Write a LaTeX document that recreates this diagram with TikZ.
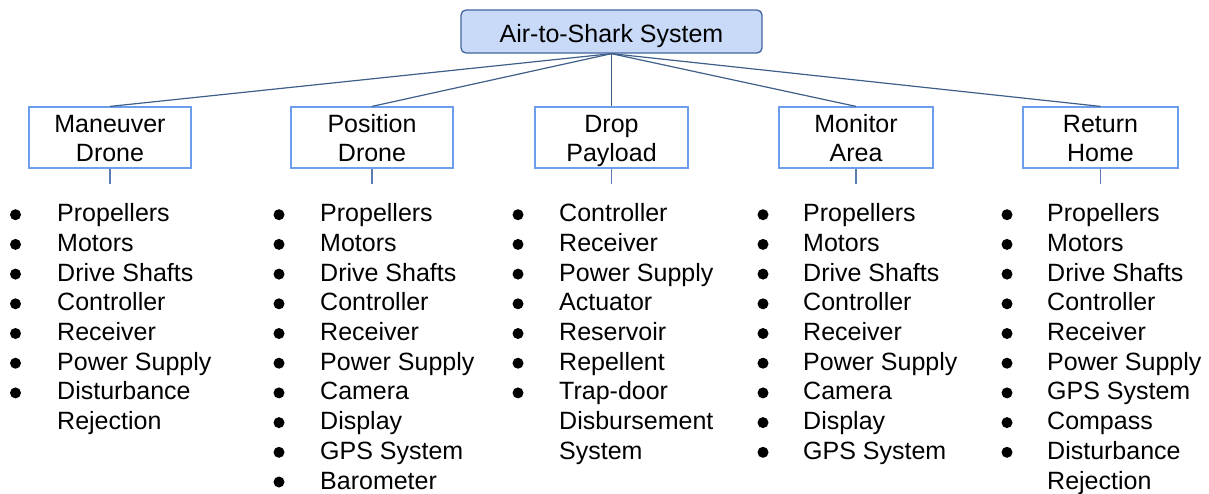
\documentclass[tikz,border=0pt]{standalone}
\usepackage{fontspec}
\setmainfont{Liberation Sans}
\definecolor{topfill}{HTML}{C9DAF8}
\definecolor{topline}{HTML}{41659E}
\definecolor{subline}{HTML}{6D9EEB}
\definecolor{linkcol}{HTML}{3E5F8A}
\definecolor{stubcol}{HTML}{5B7DB1}
\begin{document}
\begin{tikzpicture}[x=1pt,y=-1pt,
  every node/.style={font=\fontsize{25}{29}\selectfont, inner sep=0pt},
  topbox/.style={draw=topline, fill=topfill, rounded corners=5pt, line width=1.3pt,
    minimum width=301pt, minimum height=43pt, text height=21pt, text depth=0pt},
  subbox/.style={draw=subline, line width=1.2pt, minimum height=61pt, align=center,
    text height=47pt, text depth=0pt},
  link/.style={draw=linkcol, line width=1.2pt},
  stub/.style={draw=stubcol, line width=1.2pt},
  item/.style={anchor=base west},
  dot/.style={circle, fill=black, minimum size=11pt, inner sep=0pt}
]
\useasboundingbox (0,0) rectangle (1209,493);

\node[topbox] (top) at (611.5,31.5) {Air-to-Shark System};

\node[subbox, minimum width=162pt] (c1) at (110,137.5) {Maneuver\\Drone};
\node[subbox, minimum width=162pt] (c2) at (372,137.5) {Position\\Drone};
\node[subbox, minimum width=153pt] (c3) at (611.5,137.5) {Drop\\Payload};
\node[subbox, minimum width=154pt] (c4) at (856,137.5) {Monitor\\Area};
\node[subbox, minimum width=155pt] (c5) at (1100.5,137.5) {Return\\Home};

\foreach \c in {1,...,5}{
  \draw[link] (top.south) -- (c\c.north);
  \coordinate (s\c) at ([yshift=-15pt]c\c.south);
  \draw[stub] (c\c.south) -- (s\c);
}

\foreach \c/\bx/\tx/\L in {
  1/15.5/57/{Propellers/1,Motors/1,Drive Shafts/1,Controller/1,Receiver/1,Power Supply/1,Disturbance/1,Rejection/0},
  2/279/320/{Propellers/1,Motors/1,Drive Shafts/1,Controller/1,Receiver/1,Power Supply/1,Camera/1,Display/1,GPS System/1,Barometer/1},
  3/518/559/{Controller/1,Receiver/1,Power Supply/1,Actuator/1,Reservoir/1,Repellent/1,Trap-door/1,Disbursement/0,System/0},
  4/763/803/{Propellers/1,Motors/1,Drive Shafts/1,Controller/1,Receiver/1,Power Supply/1,Camera/1,Display/1,GPS System/1},
  5/1007/1047/{Propellers/1,Motors/1,Drive Shafts/1,Controller/1,Receiver/1,Power Supply/1,GPS System/1,Compass/1,Disturbance/1,Rejection/0}}{
  \foreach \t/\b [count=\i] in \L {
    \node[item] (l\c-\i) at ({\tx},{221.7+(\i-1)*29.7}) {\t};
    \ifnum\b=1
      \node[dot] (b\c-\i) at ({\bx},{214.7+(\i-1)*29.7}) {};
    \fi
  }
}
\end{tikzpicture}
\end{document}
